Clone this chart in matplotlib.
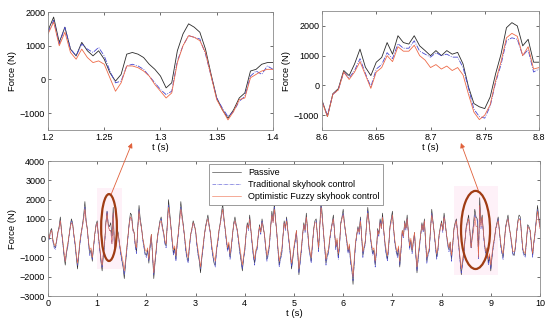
import numpy as np
import matplotlib
matplotlib.use("Agg")
import matplotlib.pyplot as plt
from matplotlib.patches import Ellipse, Rectangle

plt.rcParams['font.family'] = ['Liberation Sans', 'DejaVu Sans']
plt.rcParams['font.size'] = 6.5

# ---- zoom window 1: t = 1.20 .. 1.40 s, step 5 ms (N)
t_win1 = [1.2, 1.4]
passive_w1 = [1450, 1850, 1100, 1550, 900, 700, 1100, 850, 700, 850, 600, 200, -50, 150,
              750, 800, 750, 650, 450, 300, 100, -250, -100, 850, 1350, 1650, 1550, 1400,
              900, 150, -550, -900, -1150, -900, -550, -400, 250, 300, 450, 500, 500]
trad_w1 = [1400, 1750, 1050, 1550, 900, 700, 1050, 900, 800, 950, 700, 250, -100, -50,
           400, 450, 400, 300, 100, -100, -300, -450, -350, 550, 1000, 1300, 1250, 1200,
           750, 100, -550, -850, -1100, -950, -650, -500, 100, 250, 150, 400, 300]
fuzzy_w1 = [1350, 1700, 1000, 1400, 800, 600, 900, 650, 500, 550, 450, 50, -350, -100,
            400, 400, 350, 250, 100, -150, -350, -550, -400, 500, 1000, 1300, 1250, 1150,
            800, 100, -600, -900, -1200, -950, -600, -550, 50, 150, 250, 300, 300]

# ---- zoom window 2: t = 8.60 .. 8.80 s, step 5 ms (N)
t_win2 = [8.6, 8.8]
passive_w2 = [-500, -1050, -280, -110, 500, 330, 720, 1220, 610, 330, 780, 940, 1440, 1050,
              1670, 1440, 1390, 1670, 1330, 1170, 1000, 1170, 1000, 1170, 1050, 1110, 720,
              -50, -610, -720, -780, -390, 390, 1050, 1940, 2110, 2000, 1330, 1550, 780, 780]
trad_w2 = [-550, -1000, -300, -150, 450, 250, 500, 900, 400, -50, 550, 700, 1100, 900,
           1400, 1250, 1250, 1500, 1150, 1050, 950, 1100, 1000, 1050, 950, 950, 600,
           -100, -800, -1050, -1100, -700, 100, 700, 1500, 1600, 1550, 1000, 1200, 450, 550]
fuzzy_w2 = [-550, -1050, -300, -150, 450, 200, 450, 800, 350, -100, 450, 600, 1000, 800,
            1300, 1150, 1150, 1350, 1000, 850, 600, 700, 550, 650, 500, 600, 350,
            -300, -900, -1150, -1000, -650, 150, 800, 1600, 1750, 1650, 1000, 1300, 550, 600]

# ---- full record: t = 0 .. 10 s, step 0.025 s (values in 100 N), one row per second
passive_full = [
    2, 0, 4, 5, -1, -4, -5, -1, 3, 6, 11, 4, -2, -9, -14, -8, -4, 1, 6, 10, 8, 2, -3, -10, -16, -9, -2, 3, 7, 12, 19, 9, 5, -3, -8, -6, -12, -5, 2, 7,
    9, 1, -5, -12, -17, -9, -3, 8, 14, 7, 6, 8, 1, 16, -5, -4, 5, 3, -2, -7, -11, -15, -21, -14, -6, 1, 8, 13, 12, 5, 3, -4, -7, 6, 17, 10, 6, 0, -4, -8,
    -9, -6, -13, -4, 2, -10, -21, -13, -6, 1, 5, 9, 11, 6, 3, -2, -4, 8, 20, 13, 6, -2, -8, -5, -11, -3, 3, 11, 19, 12, 7, 1, -6, -10, -12, -4, 2, 5, 9, 7,
    4, -3, -8, -12, -18, -11, -5, 1, 6, 9, 12, 7, 3, -4, -9, -13, -14, -6, -2, 4, 8, 13, 18, 11, 5, -1, -6, -3, -10, -5, 2, 8, 11, 7, 4, -2, -7, -12, -17, -11,
    -6, 2, 8, 5, 12, 4, -3, -9, -13, -7, -5, 2, 7, 3, 10, 6, 2, -5, -11, -8, -4, 6, 14, 9, 18, 10, 3, -6, -14, -10, -8, 1, 9, 5, 11, 4, -2, -8, -16, -11,
    -5, -1, 4, -7, -19, -12, -6, 2, 8, 4, 13, 5, -4, -8, -12, -3, 5, 9, 10, 2, -6, 7, 20, 12, 3, -5, -13, -9, -7, -1, 4, 8, 12, 3, -5, -1, -10, -4, 8, 11,
    15, 8, 3, -2, -7, -4, -12, -16, -24, -12, -3, 2, 6, 3, 11, 1, -9, -5, -2, 8, 16, 9, 2, -4, -8, -6, -14, -7, 5, 2, 10, 6, 13, 4, -3, -8, -11, -4, 6, 10,
    14, 5, -2, -6, -9, -5, -15, -6, 4, 1, 9, 5, 12, 3, -5, -1, -7, -2, 3, -8, -18, -10, -4, 2, 8, 4, 10, -2, -12, -8, -6, 5, 15, 9, 3, -4, -10, -6, 2, 6,
    9, 4, 13, 8, 2, -3, -6, -2, -11, -4, 5, 8, 10, 3, -4, -11, -19, -13, -8, -1, 6, 9, 12, 4, -5, 2, 8, 15, 11, 10, -8, 21, 8, 12, 3, -4, -8, -5, -13, -9,
    -17, -10, -4, 0, 5, 8, 11, 4, -3, -7, -10, -2, 6, 9, 12, 6, 2, -3, -8, -9, -5, 3, 9, 12, 11, 2, -6, -8, -9, -1, 7, 6, 4, -3, -9, -2, 3, 10, 17, 11,
    6]
trad_full = [
    1, -1, 3, 4, -2, -5, -6, -2, 2, 5, 9, 3, -3, -8, -12, -7, -5, 0, 5, 9, 7, 1, -4, -9, -14, -8, -3, 2, 6, 10, 16, 8, 4, -4, -9, -7, -11, -5, 1, 6,
    8, 0, -6, -11, -15, -8, -4, 7, 14, 7, 4, 4, -3, 13, -5, -5, 3, 1, -3, -8, -12, -14, -19, -12, -7, 0, 7, 11, 10, 4, 2, -5, -8, 5, 15, 8, 5, -1, -5, -9,
    -10, -7, -12, -5, 1, -9, -19, -12, -7, 0, 4, 8, 10, 5, 2, -3, -5, 7, 17, 11, 5, -3, -9, -6, -12, -4, 2, 9, 16, 10, 6, 0, -7, -11, -13, -5, 1, 4, 8, 6,
    3, -4, -9, -11, -16, -10, -6, 0, 5, 8, 10, 6, 2, -5, -10, -12, -15, -7, -3, 3, 7, 11, 15, 9, 4, -2, -7, -4, -11, -6, 1, 7, 9, 6, 3, -3, -8, -11, -16, -10,
    -7, 1, 7, 4, 10, 3, -4, -10, -14, -8, -6, 1, 6, 2, 9, 5, 1, -6, -12, -9, -5, 5, 12, 8, 16, 9, 2, -7, -15, -11, -9, 0, 8, 4, 10, 3, -3, -9, -15, -10,
    -6, -2, 3, -8, -18, -13, -7, 1, 7, 3, 11, 4, -5, -9, -13, -4, 4, 8, 9, 1, -7, 6, 17, 10, 2, -6, -14, -10, -8, -2, 3, 7, 10, 2, -6, -2, -11, -5, 7, 10,
    13, 7, 2, -3, -8, -5, -13, -17, -22, -13, -4, 1, 5, 2, 10, 0, -10, -6, -3, 7, 14, 8, 1, -5, -9, -7, -15, -8, 4, 1, 9, 5, 11, 3, -4, -9, -12, -5, 5, 9,
    12, 4, -3, -7, -10, -6, -14, -7, 3, 0, 8, 4, 10, 2, -6, -2, -8, -3, 2, -9, -17, -11, -5, 1, 7, 3, 9, -3, -13, -9, -7, 4, 13, 8, 2, -5, -11, -7, 1, 5,
    8, 3, 11, 7, 1, -4, -7, -3, -12, -5, 4, 7, 9, 2, -5, -12, -18, -14, -9, -2, 5, 8, 10, 3, -5, 1, 5, 12, 10, 9, -11, 16, 5, 10, 2, -5, -9, -6, -14, -10,
    -16, -9, -5, -1, 4, 7, 10, 3, -4, -8, -11, -3, 5, 8, 10, 5, 1, -4, -9, -8, -6, 2, 8, 10, 10, 1, -7, -9, -10, -2, 6, 5, 3, -4, -10, -3, 2, 9, 15, 10,
    5]
fuzzy_full = [
    2, 0, 3, 4, -1, -3, -4, -1, 3, 5, 9, 3, -1, -7, -12, -6, -3, 1, 5, 8, 7, 2, -2, -8, -13, -7, -1, 3, 6, 10, 15, 8, 4, -2, -6, -5, -10, -4, 2, 6,
    8, 1, -4, -10, -14, -7, -2, 7, 13, 6, 4, 4, -3, 13, -6, -5, 3, 2, -2, -6, -9, -12, -17, -11, -5, 1, 7, 11, 10, 4, 3, -3, -5, 5, 14, 8, 5, 0, -3, -6,
    -7, -5, -11, -3, 2, -8, -18, -11, -5, 1, 4, 8, 9, 5, 3, -1, -3, 7, 16, 11, 5, -1, -6, -4, -9, -2, 3, 9, 15, 10, 6, 1, -4, -8, -10, -3, 2, 5, 8, 6,
    4, -2, -6, -10, -15, -9, -4, 1, 5, 8, 10, 6, 3, -3, -7, -10, -12, -5, -1, 4, 7, 11, 15, 10, 5, 0, -5, -2, -8, -4, 2, 7, 9, 6, 4, -1, -5, -9, -14, -9,
    -5, 2, 7, 5, 10, 4, -2, -7, -11, -6, -4, 2, 6, 3, 8, 5, 2, -4, -9, -6, -3, 5, 12, 8, 15, 9, 3, -5, -12, -8, -6, 1, 8, 5, 9, 4, -1, -7, -13, -9,
    -4, 0, 4, -6, -16, -10, -5, 2, 7, 4, 11, 5, -3, -7, -10, -2, 4, 8, 8, 2, -5, 6, 16, 10, 3, -4, -11, -7, -6, 0, 4, 7, 10, 3, -4, 0, -8, -3, 7, 10,
    12, 7, 3, -1, -6, -3, -10, -14, -20, -10, -2, 2, 5, 3, 9, 1, -7, -4, -1, 7, 13, 8, 2, -3, -6, -5, -12, -6, 4, 2, 8, 5, 11, 4, -2, -6, -9, -3, 5, 8,
    12, 5, -1, -5, -7, -4, -12, -5, 4, 1, 8, 5, 10, 3, -4, 0, -6, -1, 3, -7, -15, -8, -3, 2, 7, 4, 9, -1, -10, -7, -5, 5, 12, 8, 3, -3, -8, -5, 2, 5,
    8, 4, 11, 7, 2, -2, -5, -2, -9, -3, 4, 7, 9, 3, -3, -10, -16, -11, -7, -1, 5, 8, 10, 4, -5, 0, 4, 11, 6, 6, -10, 17, 6, 11, 3, -3, -7, -5, -11, -8,
    -14, -8, -3, 0, 5, 7, 9, 4, -2, -6, -8, -2, 5, 8, 10, 5, 2, -2, -7, -7, -4, 3, 8, 10, 9, 2, -5, -7, -8, -1, 6, 5, 4, -2, -8, -2, 3, 8, 14, 9,
    5]

labels = ['Passive', 'Traditional skyhook control', 'Optimistic Fuzzy skyhook control']
colors = ['#2a2a2a', '#4848d0', '#ee6a48']
styles = ['-', '-.', '-']


def style_axis(ax):
    ax.tick_params(direction='in', top=True, right=True, length=2.5, width=0.5,
                   labelsize=6.5, pad=2, colors='#333333', labelcolor='black')
    for s in ax.spines.values():
        s.set_color('#8a8a8a')
        s.set_linewidth(0.6)
    ax.set_xlabel('t (s)', fontsize=6.8, labelpad=1)
    ax.set_ylabel('Force (N)', fontsize=6.8, labelpad=2)


def draw(ax, t, series, lw):
    out = []
    for y, c, ls, lab in zip(series, colors, styles, labels):
        ln, = ax.plot(t, y, color=c, linestyle=ls, linewidth=lw, label=lab)
        out.append(ln)
    return out


fig = plt.figure(figsize=(5.5, 3.25), dpi=100)

ax1 = fig.add_axes([0.0873, 0.6, 0.409, 0.363])
t1 = np.linspace(t_win1[0], t_win1[1], len(passive_w1))
draw(ax1, t1, [passive_w1, trad_w1, fuzzy_w1], 0.6)
ax1.set_xlim(t_win1)
ax1.set_ylim(-1500, 2000)
ax1.set_xticks([1.2, 1.25, 1.3, 1.35, 1.4])
ax1.set_xticklabels(['1.2', '1.25', '1.3', '1.35', '1.4'])
ax1.set_yticks([-1000, 0, 1000, 2000])
style_axis(ax1)

ax2 = fig.add_axes([0.5855, 0.6, 0.3945, 0.366])
t2 = np.linspace(t_win2[0], t_win2[1], len(passive_w2))
draw(ax2, t2, [passive_w2, trad_w2, fuzzy_w2], 0.6)
ax2.set_xlim(t_win2)
ax2.set_ylim(-1500, 2500)
ax2.set_xticks([8.6, 8.65, 8.7, 8.75, 8.8])
ax2.set_xticklabels(['8.6', '8.65', '8.7', '8.75', '8.8'])
ax2.set_yticks([-1000, 0, 1000, 2000])
style_axis(ax2)

ax3 = fig.add_axes([0.0873, 0.0892, 0.8945, 0.4154])
lines = []
for y, c, ls, lab in zip([passive_full, trad_full, fuzzy_full], colors, styles, labels):
    t3 = np.linspace(0, 10, len(y))
    ln, = ax3.plot(t3, np.array(y) * 100, color=c, linestyle=ls, linewidth=0.4, label=lab)
    lines.append(ln)
ax3.set_xlim(0, 10)
ax3.set_ylim(-3000, 4000)
ax3.set_xticks(range(0, 11))
ax3.set_yticks(range(-3000, 4001, 1000))
style_axis(ax3)

# faint highlight behind the marked regions
ax3.add_patch(Rectangle((1.0, -1600), 0.5, 4200, color='#fef1f8', zorder=0, lw=0))
ax3.add_patch(Rectangle((8.25, -1900), 0.9, 4600, color='#fef1f8', zorder=0, lw=0))

ax3.add_patch(Ellipse((1.24, 550), 0.32, 3470, fill=False, edgecolor='#a03c14', lw=1.6, zorder=5))
ax3.add_patch(Ellipse((8.69, 425), 0.59, 4050, fill=False, edgecolor='#a03c14', lw=1.6, zorder=5))

arrow = dict(arrowstyle='-|>', color='#e0603a', lw=0.6, mutation_scale=7,
             shrinkA=0, shrinkB=0)
ax3.annotate('', xy=(0.24, 0.56), xycoords='figure fraction',
             xytext=(1.28, 2250), textcoords='data', arrowprops=arrow, annotation_clip=False)
ax3.annotate('', xy=(0.838, 0.56), xycoords='figure fraction',
             xytext=(8.75, 2450), textcoords='data', arrowprops=arrow, annotation_clip=False)

leg = ax3.legend(handles=lines, loc='upper left', bbox_to_anchor=(0.371, 0.508),
                 bbox_transform=fig.transFigure, fontsize=6.5, fancybox=False,
                 framealpha=1, edgecolor='#8a8a8a', handlelength=3.2, borderpad=0.4,
                 labelspacing=0.35, handletextpad=0.8)
leg.get_frame().set_linewidth(0.6)
leg.set_zorder(10)

fig.savefig('out.png', dpi=100)
